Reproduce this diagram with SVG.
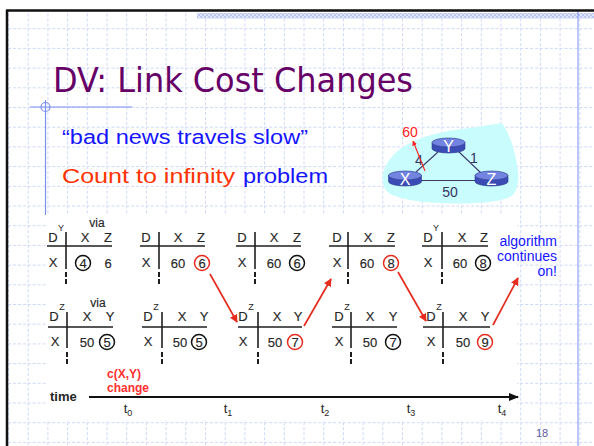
<svg xmlns="http://www.w3.org/2000/svg" width="594" height="446" viewBox="0 0 594 446">
<defs>
<pattern id="grid" patternUnits="userSpaceOnUse" x="8" y="8.5" width="19.7" height="19.7">
<path d="M0,0.5 H19.7 M0.5,0 V19.7" stroke="#cdd8f7" stroke-width="1" stroke-dasharray="3 2" fill="none"/>
</pattern>
<pattern id="band" patternUnits="userSpaceOnUse" width="4" height="4">
<rect width="4" height="4" fill="#dfe6fb"/>
<rect width="2" height="2" fill="#b9c7f2"/>
<rect x="2" y="2" width="2" height="2" fill="#b9c7f2"/>
</pattern>
<marker id="red" viewBox="0 0 10 10" refX="9" refY="5" markerWidth="8" markerHeight="8" orient="auto" markerUnits="userSpaceOnUse">
<path d="M0,0 L10,5 L0,10 Z" fill="#e62c1e"/>
</marker>
<marker id="redsm" viewBox="0 0 10 10" refX="9" refY="5" markerWidth="5" markerHeight="5" orient="auto" markerUnits="userSpaceOnUse">
<path d="M0,0 L10,5 L0,10 Z" fill="#ff2020"/>
</marker>
<marker id="blk" viewBox="0 0 10 10" refX="9" refY="5" markerWidth="10" markerHeight="10" orient="auto" markerUnits="userSpaceOnUse">
<path d="M0,1 L10,5 L0,9 Z" fill="#111"/>
</marker>
<g id="router">
<path d="M-16.5,-3 V3 A16.5,4.5 0 0 0 16.5,3 V-3 Z" fill="#3b4db5" stroke="#2c3a90" stroke-width="0.6"/>
<ellipse cx="0" cy="-3" rx="16.5" ry="4.5" fill="#7383e0" stroke="#2c3a90" stroke-width="0.6"/>
</g>
</defs>
<style>
.t{font-family:"Liberation Sans",Arial,sans-serif;font-size:13px;fill:#262626;stroke:#262626;stroke-width:0.15;text-anchor:middle}
.sup{font-family:"Liberation Sans",Arial,sans-serif;font-size:9px;fill:#262626;text-anchor:middle}
.ln{stroke:#1e1e1e;stroke-width:1.6;fill:none}
.dash{stroke:#1e1e1e;stroke-width:2;fill:none}
.cb{fill:none;stroke:#111;stroke-width:1.5}
.cr{fill:none;stroke:#e62c1e;stroke-width:1.5}
.arr{stroke:#e62c1e;stroke-width:1.7;fill:none}
.comic{font-family:"Liberation Sans",sans-serif;font-size:20px}
.net{font-family:"Liberation Sans",Arial,sans-serif;font-size:14px;fill:#333366;text-anchor:middle}
.rl{font-family:"Liberation Sans",Arial,sans-serif;font-size:16px;fill:#fff;text-anchor:middle}
.tl{font-family:"Liberation Sans",Arial,sans-serif;font-size:13px;fill:#262626;text-anchor:middle}
.red{font-family:"Liberation Sans",Arial,sans-serif;font-size:12px;font-weight:bold;fill:#ff3030}
</style>
<rect width="594" height="446" fill="#fff"/>
<rect x="8" y="11" width="586" height="435" fill="url(#grid)"/>
<rect x="197" y="13" width="397" height="5.5" fill="url(#band)"/>
<line x1="578" y1="11" x2="578" y2="446" stroke="#7b8ff0" stroke-width="1"/>
<line x1="6" y1="10.5" x2="594" y2="10.5" stroke="#111" stroke-width="2.5"/>
<line x1="7" y1="10" x2="7" y2="446" stroke="#111" stroke-width="2.5"/>
<g id="deco">
<line x1="30" y1="107" x2="132" y2="107" stroke="#7b8ff0" stroke-width="1.2"/>
<line x1="45.5" y1="100" x2="45.5" y2="215" stroke="#7b8ff0" stroke-width="1.2"/>
<circle cx="45.5" cy="107" r="4.5" fill="none" stroke="#7b8ff0" stroke-width="1.2"/>
</g>
<g id="title">
<text x="53" y="92" font-family="'DejaVu Sans',Verdana,sans-serif" font-size="33" fill="#660066" textLength="360" lengthAdjust="spacingAndGlyphs">DV: Link Cost Changes</text>
</g>
<g id="bullets">
<text class="comic" x="62" y="144" fill="#1515ff" textLength="246" lengthAdjust="spacingAndGlyphs">“bad news travels slow”</text>
<text class="comic" x="62" y="183" fill="#ff3300" textLength="173" lengthAdjust="spacingAndGlyphs">Count to infinity</text>
<text class="comic" x="243" y="183" fill="#1515ff" textLength="85" lengthAdjust="spacingAndGlyphs">problem</text>
</g>
<g id="network">
<path d="M383,181 C381,168 392,152 410,143 C425,135 450,130 470,128 L502,123 C510,135 515,150 517,165 C520,180 518,192 510,197 C495,204 460,204 437,203 C418,202 400,199 390,194 C385,190 383,186 383,181 Z" fill="#c9fcfc"/>
<g id="links" stroke="#3c3c6c" stroke-width="1.1">
<line x1="416" y1="172" x2="438" y2="152"/>
<line x1="458" y1="151" x2="481" y2="173"/>
<line x1="421" y1="180.5" x2="476" y2="180.5"/>
</g>
<text class="net" x="419" y="165">4</text>
<text class="net" x="474" y="163">1</text>
<text class="net" x="450" y="197">50</text>
<line x1="425" y1="171" x2="413" y2="141" stroke="#ff2020" stroke-width="1.1" marker-end="url(#redsm)"/>
<text x="410" y="137" font-family="'Liberation Sans',Arial,sans-serif" font-size="14" fill="#ff2020" text-anchor="middle">60</text>
<g id="nodeY"><use href="#router" x="448.5" y="145.5"/><text class="rl" x="448.5" y="152">Y</text></g>
<g id="nodeX"><use href="#router" x="405" y="178.5"/><text class="rl" x="405" y="185">X</text></g>
<g id="nodeZ"><use href="#router" x="491.5" y="178.5"/><text class="rl" x="491.5" y="185">Z</text></g>
</g>
<rect x="46" y="214" width="471" height="206" fill="#fff"/>
<g id="T1">
<text class="t" x="53" y="242">D</text><text class="sup" x="61" y="231">Y</text><text class="t" x="97" y="227" style="font-size:12px">via</text>
<text class="t" x="85" y="242">X</text><text class="t" x="108" y="242">Z</text>
<line class="ln" x1="47" y1="246" x2="112" y2="246"/><line class="ln" x1="66" y1="232" x2="66" y2="269"/>
<path class="dash" d="M66,272 V277 M66,279 V284"/>
<text class="t" x="53" y="267">X</text><circle class="cb" cx="83" cy="263" r="7.5"/><text class="t" x="83" y="267.5">4</text><text class="t" x="108" y="267.5">6</text>
</g>
<g id="T2">
<text class="t" x="146" y="242">D</text>
<text class="t" x="178" y="242">X</text><text class="t" x="201" y="242">Z</text>
<line class="ln" x1="140" y1="246" x2="205" y2="246"/><line class="ln" x1="159" y1="232" x2="159" y2="269"/>
<path class="dash" d="M159,272 V277 M159,279 V284"/>
<text class="t" x="146" y="267">X</text><text class="t" x="178" y="267.5">60</text><circle class="cr" cx="202" cy="263" r="7.5"/><text class="t" x="202" y="267.5">6</text>
</g>
<g id="T3">
<text class="t" x="242" y="242">D</text>
<text class="t" x="274" y="242">X</text><text class="t" x="297" y="242">Z</text>
<line class="ln" x1="236" y1="246" x2="301" y2="246"/><line class="ln" x1="255" y1="232" x2="255" y2="269"/>
<path class="dash" d="M255,272 V277 M255,279 V284"/>
<text class="t" x="242" y="267">X</text><text class="t" x="274" y="267.5">60</text><circle class="cb" cx="297" cy="263" r="7.5"/><text class="t" x="297" y="267.5">6</text>
</g>
<g id="T4">
<text class="t" x="337" y="242">D</text>
<text class="t" x="368" y="242">X</text><text class="t" x="391" y="242">Z</text>
<line class="ln" x1="329" y1="246" x2="395" y2="246"/><line class="ln" x1="348" y1="232" x2="348" y2="269"/>
<path class="dash" d="M348,272 V277 M348,279 V284"/>
<text class="t" x="337" y="267">X</text><text class="t" x="367" y="267.5">60</text><circle class="cr" cx="391" cy="263" r="7.5"/><text class="t" x="391" y="267.5">8</text>
</g>
<g id="T5">
<text class="t" x="428" y="242">D</text><text class="sup" x="436" y="231">Y</text>
<text class="t" x="462" y="242">X</text><text class="t" x="484" y="242">Z</text>
<line class="ln" x1="422" y1="246" x2="488" y2="246"/><line class="ln" x1="442" y1="232" x2="442" y2="269"/>
<path class="dash" d="M442,272 V277 M442,279 V284"/>
<text class="t" x="428" y="267">X</text><text class="t" x="460" y="267.5">60</text><circle class="cb" cx="483" cy="263" r="7.5"/><text class="t" x="483" y="267.5">8</text>
</g>
<g id="note">
<text font-family="'Liberation Sans',sans-serif" font-size="14" fill="#1515ff" text-anchor="end"><tspan x="557" y="246">algorithm</tspan><tspan x="557" y="261">continues</tspan><tspan x="557" y="276">on!</tspan></text>
</g>
<g id="B1">
<text class="t" x="54" y="321">D</text><text class="sup" x="62" y="310">Z</text><text class="t" x="98" y="307" style="font-size:12px">via</text>
<text class="t" x="87" y="321">X</text><text class="t" x="110" y="321">Y</text>
<line class="ln" x1="48" y1="327" x2="113" y2="327"/><line class="ln" x1="67" y1="312" x2="67" y2="348"/>
<path class="dash" d="M67,352 V357 M67,359 V364"/>
<text class="t" x="55" y="346">X</text><text class="t" x="87" y="346.5">50</text><circle class="cb" cx="107" cy="342" r="7.5"/><text class="t" x="107" y="346.5">5</text>
</g>
<g id="B2">
<text class="t" x="148" y="321">D</text><text class="sup" x="156" y="310">Z</text>
<text class="t" x="182" y="321">X</text><text class="t" x="204" y="321">Y</text>
<line class="ln" x1="142" y1="327" x2="207" y2="327"/><line class="ln" x1="162" y1="312" x2="162" y2="348"/>
<path class="dash" d="M162,352 V357 M162,359 V364"/>
<text class="t" x="148" y="346">X</text><text class="t" x="180" y="346.5">50</text><circle class="cb" cx="199" cy="342" r="7.5"/><text class="t" x="199" y="346.5">5</text>
</g>
<g id="B3">
<text class="t" x="243" y="321">D</text><text class="sup" x="251" y="310">Z</text>
<text class="t" x="277" y="321">X</text><text class="t" x="298" y="321">Y</text>
<line class="ln" x1="238" y1="327" x2="302" y2="327"/><line class="ln" x1="258" y1="312" x2="258" y2="348"/>
<path class="dash" d="M258,352 V357 M258,359 V364"/>
<text class="t" x="243" y="346">X</text><text class="t" x="275" y="346.5">50</text><circle class="cr" cx="295" cy="342" r="7.5"/><text class="t" x="295" y="346.5">7</text>
</g>
<g id="B4">
<text class="t" x="339" y="321">D</text><text class="sup" x="347" y="310">Z</text>
<text class="t" x="370" y="321">X</text><text class="t" x="393" y="321">Y</text>
<line class="ln" x1="332" y1="327" x2="397" y2="327"/><line class="ln" x1="351" y1="312" x2="351" y2="348"/>
<path class="dash" d="M351,352 V357 M351,359 V364"/>
<text class="t" x="339" y="346">X</text><text class="t" x="370" y="346.5">50</text><circle class="cb" cx="393" cy="342" r="7.5"/><text class="t" x="393" y="346.5">7</text>
</g>
<g id="B5">
<text class="t" x="431" y="321">D</text><text class="sup" x="439" y="310">Z</text>
<text class="t" x="463" y="321">X</text><text class="t" x="485" y="321">Y</text>
<line class="ln" x1="423" y1="327" x2="490" y2="327"/><line class="ln" x1="443" y1="312" x2="443" y2="348"/>
<path class="dash" d="M443,352 V357 M443,359 V364"/>
<text class="t" x="431" y="346">X</text><text class="t" x="463" y="346.5">50</text><circle class="cr" cx="485" cy="342" r="7.5"/><text class="t" x="485" y="346.5">9</text>
</g>
<g id="connectors">
<line class="arr" x1="210" y1="274" x2="237" y2="322" marker-end="url(#red)"/>
<line class="arr" x1="304" y1="326" x2="331" y2="279" marker-end="url(#red)"/>
<line class="arr" x1="398" y1="272" x2="426" y2="321" marker-end="url(#red)"/>
<line class="arr" x1="493" y1="325" x2="518" y2="278" marker-end="url(#red)"/>
<line x1="89" y1="397" x2="518" y2="397" stroke="#111" stroke-width="2" marker-end="url(#blk)"/>
</g>
<g id="timeline">
<text x="50" y="401" font-family="'Liberation Sans',Arial,sans-serif" font-size="13" font-weight="bold" fill="#262626">time</text>
<text class="red" x="107" y="378">c(X,Y)</text>
<text class="red" x="107" y="392">change</text>
<text class="tl" x="128" y="413">t<tspan font-size="9" dy="3">0</tspan></text>
<text class="tl" x="228" y="413">t<tspan font-size="9" dy="3">1</tspan></text>
<text class="tl" x="325" y="413">t<tspan font-size="9" dy="3">2</tspan></text>
<text class="tl" x="411" y="413">t<tspan font-size="9" dy="3">3</tspan></text>
<text class="tl" x="502" y="413">t<tspan font-size="9" dy="3">4</tspan></text>
</g>
<text x="542" y="437" font-family="'Liberation Sans',Arial,sans-serif" font-size="11" fill="#5a5aa0" text-anchor="middle">18</text>
</svg>
